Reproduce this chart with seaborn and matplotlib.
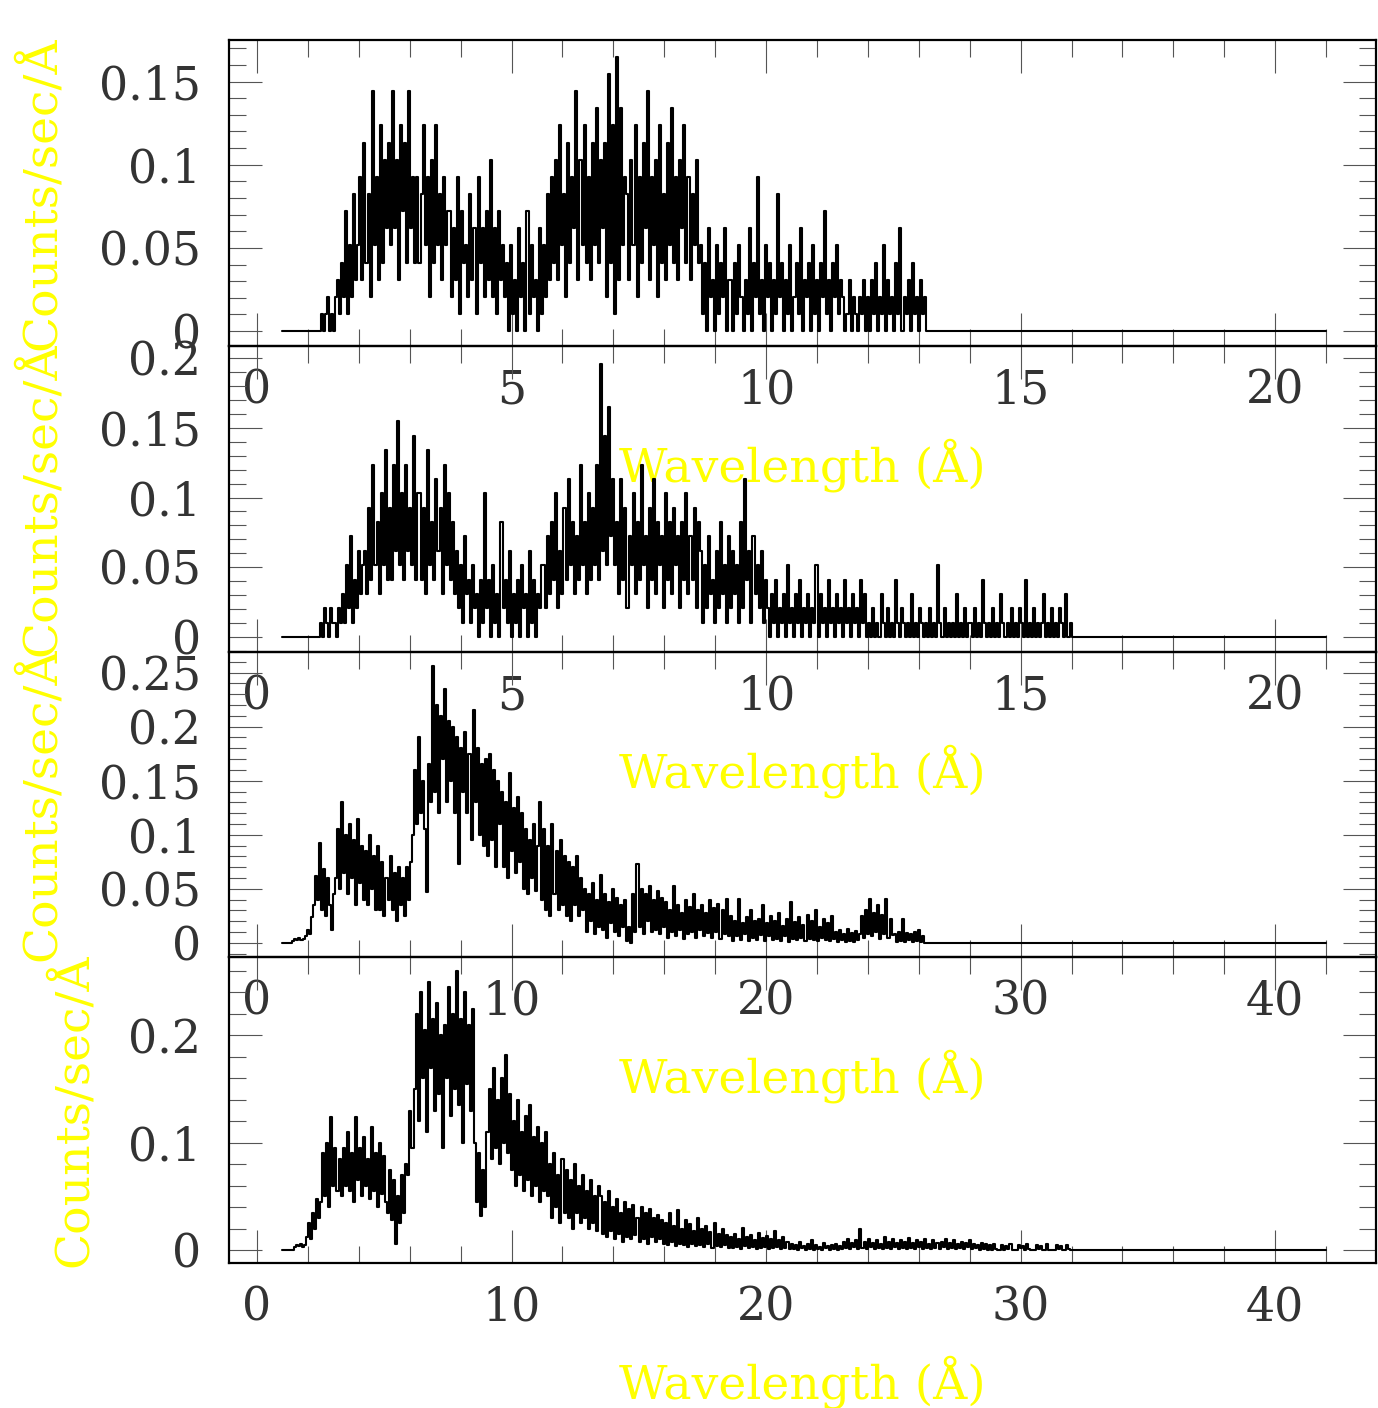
import numpy as np
import matplotlib
matplotlib.use('Agg')
import matplotlib.pyplot as plt
from matplotlib.ticker import MultipleLocator, FuncFormatter
import seaborn as sns

# ---- data ----
# panels 1 and 2 are binned photon counts, one count = count_unit counts/sec/A
count_unit = 0.0103

p1_counts = [1, 0, 1, 2, 0, 1, 0, 2,
             3, 1, 4, 2, 7, 1, 5, 2, 8, 3,
             5, 9, 3, 11, 4, 8, 2, 14, 5, 9, 3, 12, 4, 10, 6,
             11, 5, 14, 6, 10, 3, 12, 7, 11, 4, 14, 6, 9, 4,
             9, 4, 8, 12, 5, 9, 2, 10, 4, 12, 5, 8, 3, 9, 5, 7,
             7, 2, 6, 3, 9, 1, 7, 4, 5, 2, 8, 3, 6, 1, 9, 4, 6, 2, 7, 3, 10, 2, 6, 1, 7, 3, 5, 2,
             4, 0, 5, 1, 3, 0, 6, 2, 4, 0, 7, 1, 5, 2, 3, 0, 6, 1,
             5, 2, 8, 3, 9, 4, 10, 3, 12, 5, 8, 2, 11, 4, 9, 6, 14, 3, 10, 5, 12, 4, 9, 3, 11, 5, 13, 4, 10, 6,
             11, 2, 15, 4, 12, 1, 16, 3, 13, 5, 9,
             8, 3, 10, 5, 12, 2, 9, 4, 11, 6, 14, 3, 9, 5, 10, 2, 12, 4, 8, 3,
             11, 5, 13, 4, 9, 3, 10, 6, 12, 4, 9, 3, 8, 5, 10, 4,
             5, 1, 4, 0, 6, 2, 3, 0, 5, 1, 4, 2, 6, 0, 3,
             3, 0, 4, 1, 5, 2, 0, 3, 1, 6, 0, 4, 2, 9, 1, 3, 0, 5, 2, 4, 0, 3, 1, 8, 2, 4, 0, 3, 1, 5,
             0, 2, 4, 1, 6, 0, 3, 2, 4, 0, 5, 1, 3, 0, 4, 2, 7, 1, 3, 0, 4, 2, 5, 1, 3,
             2, 0, 1, 3, 0, 2, 1, 0, 2, 1, 3, 0,
             2, 0, 3, 1, 4, 0, 2, 1, 5, 0, 3, 1, 2, 0, 4, 1, 6, 0, 2, 1, 3, 0, 4, 1, 2, 0, 3, 1, 2]

p2_counts = [1, 0, 2, 1, 0, 2, 1, 1, 0, 2, 1,
             3, 1, 5, 2, 7, 1, 4, 2, 6, 3, 5,
             6, 3, 9, 4, 12, 5, 8, 3, 10, 5, 13, 4,
             9, 4, 12, 6, 15, 5, 10, 4, 12, 6, 9, 5, 14, 4, 10,
             10, 4, 9, 3, 13, 5, 8, 4, 11, 6, 9, 3, 12, 5, 10, 4, 8, 3,
             6, 2, 5, 1, 7, 3, 4, 1, 5, 2,
             3, 0, 4, 1, 10, 2, 4, 0, 5, 1, 3, 0, 8, 2, 4, 1, 6, 0, 3, 1, 4, 0, 5, 2, 3, 0, 6, 1, 4, 0, 3, 2, 5,
             5, 2, 7, 3, 8, 4, 10, 2, 6, 3, 9, 4, 11, 5, 8, 3, 7, 4, 12, 5, 8, 3, 10, 4, 9, 5,
             12, 4, 19, 6, 14, 5, 16, 7, 11, 5,
             8, 3, 11, 4, 9, 2, 7, 5, 10, 3, 8, 4, 12, 5, 7, 2, 9, 4, 11, 3,
             8, 5, 7, 2, 10, 4, 8, 3, 9, 5, 7, 2, 8, 4, 10, 3, 7, 4, 9, 2, 8,
             6, 1, 5, 2, 7, 3, 4, 1, 6, 2, 8, 3, 5, 1, 7, 2, 6, 3, 5, 1,
             8, 2, 11, 4, 6, 1, 7, 3, 5, 2, 6, 1, 4,
             2, 0, 3, 1, 4, 0, 2, 1, 3, 0, 5, 1, 2, 0, 3, 1, 4, 0, 2, 1,
             3, 0, 2, 1, 5, 0, 3, 1, 2, 0, 4, 1, 2, 0, 3, 1, 2, 0, 4, 1, 2, 0, 3, 1, 2, 0, 4, 1, 3, 0,
             1, 0, 2, 0, 1, 0, 3, 1, 0, 2, 0, 1, 0, 4, 1, 0, 2, 1, 0, 1,
             0, 3, 0, 1, 0, 2, 1, 0, 1, 0, 2, 0, 1, 0, 5, 1, 0, 2, 0, 1,
             0, 1, 0, 3, 0, 1, 0, 2, 0, 1, 1, 0, 2, 0, 1, 0, 4, 1, 0, 1,
             0, 2, 0, 1, 0, 3, 1, 0, 1, 0, 2, 0, 1, 0, 2, 1, 0, 4, 0, 1,
             0, 2, 0, 1, 0, 1, 3, 0, 1, 0, 2, 0, 1, 0, 2, 1, 0, 3, 0, 1]

# panels 3 and 4 in units of 0.001 counts/sec/A
p3_rate = [2, 4, 3, 5, 3, 4, 6,
           12, 8, 24,
           35, 62, 40, 92,
           30, 68, 25, 60, 35,
           12, 45,
           60, 105, 50, 130, 65, 100,
           45, 110, 60, 95, 35, 115, 55, 90, 40,
           85, 35, 100, 50, 80, 30, 90,
           30, 75, 25, 60, 40, 80, 30, 65, 20, 70, 35, 60, 25, 70, 40, 75,
           100, 160, 110, 190, 120, 150, 105, 47, 165, 130,
           256, 140, 220, 120, 210, 170, 235, 130, 205, 150,
           200, 120, 190, 73, 180, 140, 195,
           120, 175, 95, 215, 130, 180, 100, 165, 90, 170,
           80, 175, 95, 160, 70, 150, 110,
           140, 70, 130, 60, 157, 85, 125, 65, 135, 75,
           120, 50, 105, 45, 95, 60, 110, 48, 90, 130,
           40, 105, 30, 90, 25, 110, 45, 85, 30, 95, 35, 80, 25,
           75, 20, 70, 35, 80, 25, 60, 30,
           50, 10, 45, 20, 55, 8, 40, 15, 63, 12, 45, 5, 38, 18, 50, 10, 42, 6, 35, 15, 40,
           2, 15, 0,
           45, 10, 73, 15, 50, 8, 45, 20, 53, 10, 40, 12, 48, 8, 42, 15,
           38, 5, 30, 10, 53, 6, 35, 12, 28, 4, 40, 8, 33, 10, 45, 5, 30, 12, 35, 6,
           28, 9, 40, 5, 32, 10, 36, 4, 30, 8, 41, 6,
           25, 2, 20, 6, 41, 3, 18, 8, 24, 2, 30, 5, 20, 3, 22, 7, 35, 2, 18, 6,
           25, 3, 20, 4, 28, 2, 16, 6, 22, 1, 38, 4, 19, 3, 24, 5, 17, 2, 26, 4,
           20, 3, 30, 2, 15, 5, 22, 3, 18, 2, 25, 4,
           10, 1, 12, 3, 8, 1, 13, 2, 9, 1, 11, 3, 8,
           25, 5, 30, 8, 41, 6, 28, 10, 35, 4, 26, 8, 41, 5, 22, 7,
           8, 1, 10, 2, 22, 1, 9, 3, 8, 1, 10, 2, 12, 1, 6]

p4_rate = [3, 5, 4, 6, 3, 5,
           12, 25, 10, 35, 20, 48, 30,
           45, 90, 50, 100, 40, 124, 60, 95, 55, 85,
           50, 95, 60, 110, 55, 90, 45, 124, 65, 95, 50, 105, 60, 85, 48, 115, 55, 90, 40, 100,
           52, 88, 45,
           35, 75, 28, 65, 6, 50, 25, 70, 35, 80,
           70, 130, 95,
           150, 220, 120, 240, 160, 205, 110, 250, 170, 215, 130, 230, 145, 200, 95, 210, 160, 245, 125, 220,
           150, 260, 135, 215, 100, 240, 155, 210, 130, 225,
           100, 45, 90, 32, 75, 40, 110,
           150, 85, 170, 95, 140, 80, 160, 100, 182, 90, 145, 75,
           120, 60, 140, 70, 110, 55, 125, 65, 135, 50, 105, 60, 115, 45, 100, 55, 110, 50,
           80, 30, 90, 40, 70, 25, 85, 35, 75, 30, 65, 20, 80, 35, 60, 25, 70, 30, 55, 20,
           65, 25, 50, 18, 60,
           50, 15, 45, 12, 55, 18, 40, 10, 48, 15, 35, 8, 45, 12, 38, 10, 42, 14, 30, 8,
           40, 10, 35, 6, 38, 12, 30, 8, 33, 10, 28, 6,
           25, 5, 35, 8, 22, 4, 37, 6, 20, 5, 28, 3, 24, 6, 18, 4, 30, 5, 20, 3,
           22, 6, 17, 2, 25, 4, 15, 3, 20, 5, 14, 2,
           12, 2, 15, 3, 10, 1, 21, 4, 12, 2, 14, 3, 9, 1, 16, 2, 11, 3, 13, 1,
           10, 2, 18, 3, 9, 1, 12, 2, 8, 1,
           6, 1, 5, 0, 8, 2, 4, 0, 6, 1, 9, 0, 5, 1, 3, 0, 7, 2, 4, 0, 5, 1, 6, 0, 4, 1,
           8, 2, 10, 1, 7, 3, 9, 1, 20, 2, 8, 1, 10, 3, 7, 1, 9, 2, 6, 1,
           12, 2, 8, 1, 10, 3, 7, 1, 9, 2, 8, 1, 11, 2, 7, 1, 9, 3, 8, 1,
           10, 2, 6, 1, 9, 2, 7, 1, 8, 3, 10, 1, 7, 2, 9, 1, 6, 2, 8, 1,
           7, 3, 9, 1, 6, 2, 5, 0, 7, 1, 6, 0,
           5, 0, 6, 1, 0, 0, 5, 0, 4, 1, 6, 0, 0, 0, 5, 2, 4, 0, 6, 1,
           0, 0, 0, 5, 1, 4, 0, 0, 6, 0, 0, 0, 0, 5, 1, 4, 0, 0, 5, 1]

# wavelength span covered by each binned spectrum (A) and the plotted range
p1_span, p2_span = (1.25, 13.14), (1.23, 16.0)
p3_span, p4_span = (1.39, 26.2), (1.45, 31.95)
short_range, long_range = (0.5, 21.0), (1.0, 42.0)

panels = [
    dict(y=np.array(p1_counts) * count_unit, span=p1_span, rng=short_range,
         xlim=(-0.55, 21.98), ylim=(-0.009, 0.175), xt=(5, 1), yt=(0.05, 0.01)),
    dict(y=np.array(p2_counts) * count_unit, span=p2_span, rng=short_range,
         xlim=(-0.55, 21.98), ylim=(-0.0107, 0.2086), xt=(5, 1), yt=(0.05, 0.01)),
    dict(y=np.array(p3_rate) * 0.001, span=p3_span, rng=long_range,
         xlim=(-1.1, 43.96), ylim=(-0.013, 0.269), xt=(10, 2), yt=(0.05, 0.01)),
    dict(y=np.array(p4_rate) * 0.001, span=p4_span, rng=long_range,
         xlim=(-1.1, 43.96), ylim=(-0.012, 0.273), xt=(10, 2), yt=(0.1, 0.02)),
]
ylabel_x = [-0.164, -0.164, -0.164, -0.136]

sns.set_theme(style='ticks')
plt.rcParams['font.family'] = ['DejaVu Serif', 'DejaVu Sans']

fig = plt.figure(figsize=(13.78, 14.08), dpi=100)
W, H = 1378, 1408
left, right = 229, 1376
tops = [40, 346, 652, 957]
bottoms = [346, 652, 957, 1263]

tick_col = '#555555'
txt_col = '#333333'
yellow = '#ffff00'

for i, p in enumerate(panels):
    ax = fig.add_axes([left / W, 1 - bottoms[i] / H, (right - left) / W,
                       (bottoms[i] - tops[i]) / H])
    ax.set_facecolor('none')

    # bin edges on a regular grid, padded with the zero level on both sides
    n = len(p['y'])
    step = (p['span'][1] - p['span'][0]) / n
    xb = p['span'][0] + step * np.arange(n)
    xs = np.concatenate([[p['rng'][0]], xb, [p['span'][1], p['rng'][1]]])
    ys = np.concatenate([[0.0], p['y'], [0.0, 0.0]])
    sns.lineplot(x=xs, y=ys, ax=ax, color='black', lw=1.5,
                 drawstyle='steps-post', estimator=None, sort=False)

    ax.set_xlim(*p['xlim'])
    ax.set_ylim(*p['ylim'])
    ax.xaxis.set_major_locator(MultipleLocator(p['xt'][0]))
    ax.xaxis.set_minor_locator(MultipleLocator(p['xt'][1]))
    ax.yaxis.set_major_locator(MultipleLocator(p['yt'][0]))
    ax.yaxis.set_minor_locator(MultipleLocator(p['yt'][1]))
    fmt = FuncFormatter(lambda v, pos: f'{v:g}' if abs(v) > 1e-9 else '0')
    ax.xaxis.set_major_formatter(fmt)
    ax.yaxis.set_major_formatter(fmt)

    ax.tick_params(which='both', direction='in', top=True, right=True,
                   color=tick_col, width=0.8, labelsize=33, labelcolor=txt_col)
    ax.tick_params(which='major', length=23.8)
    ax.tick_params(which='minor', length=12.2)
    ax.tick_params(axis='x', pad=16)
    ax.tick_params(axis='y', pad=20)
    for s in ax.spines.values():
        s.set_linewidth(1.6)
        s.set_color('black')

    ax.set_xlabel('Wavelength (Å)', color=yellow, fontsize=34, va='center')
    ax.xaxis.set_label_coords(0.5, -0.389)
    ax.set_ylabel('Counts/sec/Å', color=yellow, fontsize=34, va='center')
    ax.yaxis.set_label_coords(ylabel_x[i], 0.5)

fig.savefig('out.png', dpi=100)
